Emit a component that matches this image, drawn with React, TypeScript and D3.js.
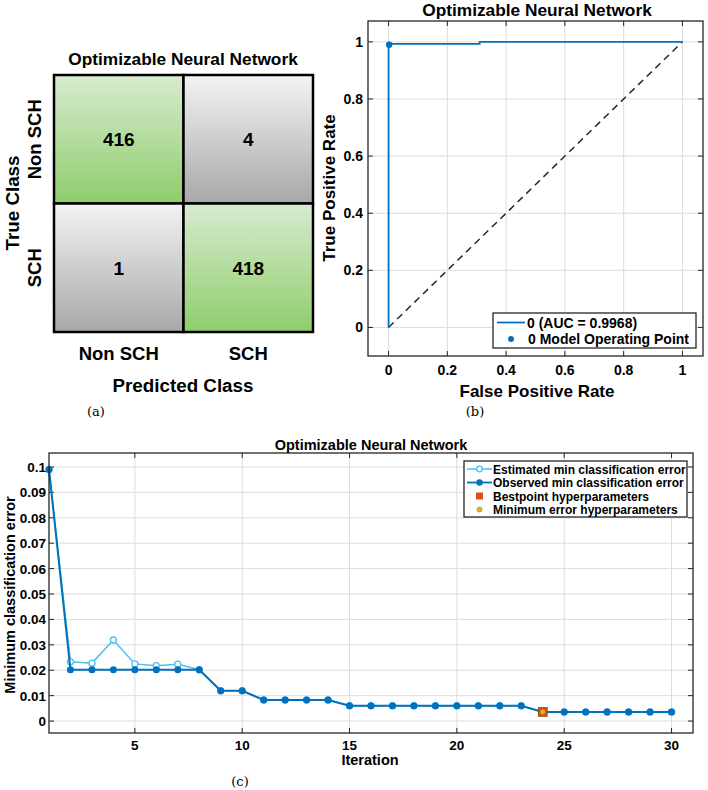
import * as d3 from "d3"

// confusion matrix
const classNames = ["Non SCH", "SCH"]
const cmCounts = [
  [416, 4],
  [1, 418],
]

// ROC curve
const rocFpr = [0, 0, 0.31, 0.31, 1]
const rocTpr = [0, 0.993, 0.993, 1, 1]
const opPoint = [0.002, 0.99]
const rocTicks = [0, 0.2, 0.4, 0.6, 0.8, 1]
const aucLabel = "0 (AUC = 0.9968)"

// optimisation trace
const iterations = d3.range(1, 31)
const observedErr = [
  0.099, 0.0202, 0.0202, 0.0202, 0.0202, 0.0202, 0.0202, 0.0202, 0.0119, 0.0119,
  0.0083, 0.0083, 0.0083, 0.0083, 0.006, 0.006, 0.006, 0.006, 0.006, 0.006,
  0.006, 0.006, 0.006, 0.0036, 0.0036, 0.0036, 0.0036, 0.0036, 0.0036, 0.0036,
]
const estimatedErr = [
  0.099, 0.0233, 0.0228, 0.0319, 0.0225, 0.0218, 0.0224, 0.0202, 0.0119, 0.0119,
  0.0083, 0.0083, 0.0083, 0.0083, 0.006, 0.006, 0.006, 0.006, 0.006, 0.006,
  0.006, 0.006, 0.006, 0.0036, 0.0036, 0.0036, 0.0036, 0.0036, 0.0036, 0.0036,
]
const bestIter = 24
const errTicksX = [5, 10, 15, 20, 25, 30]
const errTicksY = d3.range(0, 11).map(i => i / 100)
const legendItems = [
  "Estimated min classification error",
  "Observed min classification error",
  "Bestpoint hyperparameters",
  "Minimum error hyperparameters",
]

const FONT = "'Liberation Sans', Arial, sans-serif"
const SERIF = "'DejaVu Serif', 'Liberation Serif', serif"
const BLUE = "#0072BD"
const LIGHT = "#4DBEEE"
const GRID = "#dcdcdc"
const INK = "#262626"

function ConfusionMatrix() {
  const x = d3.scaleBand<number>().domain([0, 1]).range([54, 313])
  const y = d3.scaleBand<number>().domain([0, 1]).range([75, 332])
  return (
    <g fontFamily={FONT} fontWeight="bold">
      <defs>
        <linearGradient id="gGreen" x1="0" y1="0" x2="0" y2="1">
          <stop offset="0" stopColor="#d8ebd0" />
          <stop offset="1" stopColor="#8fcd6b" />
        </linearGradient>
        <linearGradient id="gGray" x1="0" y1="0" x2="0" y2="1">
          <stop offset="0" stopColor="#f3f3f3" />
          <stop offset="1" stopColor="#a8a8a8" />
        </linearGradient>
      </defs>
      <text x={183} y={65} textAnchor="middle" fontSize={17.3}>Optimizable Neural Network</text>
      {cmCounts.map((row, r) =>
        row.map((v, c) => (
          <g key={`${r}-${c}`}>
            <rect x={x(c)} y={y(r)} width={x.bandwidth()} height={y.bandwidth()}
              fill={r === c ? "url(#gGreen)" : "url(#gGray)"} stroke="#000" strokeWidth={2.5} />
            <text x={x(c)! + x.bandwidth() / 2} y={y(r)! + y.bandwidth() / 2 + 7}
              textAnchor="middle" fontSize={19}>{v}</text>
          </g>
        ))
      )}
      {classNames.map((n, i) => (
        <text key={"c" + i} x={x(i)! + x.bandwidth() / 2} y={360} textAnchor="middle" fontSize={18.5}>{n}</text>
      ))}
      {classNames.map((n, i) => (
        <text key={"r" + i} transform={`translate(41,${y(i)! + y.bandwidth() / 2}) rotate(-90)`}
          textAnchor="middle" fontSize={18.5}>{n}</text>
      ))}
      <text x={183} y={392} textAnchor="middle" fontSize={18.8}>Predicted Class</text>
      <text transform={`translate(19,203) rotate(-90)`} textAnchor="middle" fontSize={18.8}>True Class</text>
      <text x={96} y={416} textAnchor="middle" fontSize={13} fontWeight="normal" fontFamily={SERIF}>(a)</text>
    </g>
  )
}

function RocPlot() {
  const x = d3.scaleLinear().domain([-0.07, 1.07]).range([368, 703])
  const y = d3.scaleLinear().domain([-0.1, 1.073]).range([356, 21])
  const [x0, x1] = x.range()
  const [y0, y1] = y.range()
  const line = d3.line<number>().x(i => x(rocFpr[i])).y(i => y(rocTpr[i]))
  return (
    <g fontFamily={FONT} fontWeight="bold">
      <rect x={x0} y={y1} width={x1 - x0} height={y0 - y1} fill="#fff" />
      {rocTicks.map(t => (
        <g key={t}>
          <line x1={x(t)} x2={x(t)} y1={y1} y2={y0} stroke={GRID} strokeWidth={1} />
          <line x1={x0} x2={x1} y1={y(t)} y2={y(t)} stroke={GRID} strokeWidth={1} />
          <line x1={x(t)} x2={x(t)} y1={y0} y2={y0 - 5} stroke={INK} />
          <line x1={x(t)} x2={x(t)} y1={y1} y2={y1 + 5} stroke={INK} />
          <line x1={x0} x2={x0 + 5} y1={y(t)} y2={y(t)} stroke={INK} />
          <line x1={x1} x2={x1 - 5} y1={y(t)} y2={y(t)} stroke={INK} />
          <text x={x(t)} y={375} textAnchor="middle" fontSize={14}>{d3.format("~g")(t)}</text>
          <text x={x0 - 5} y={y(t) + 5} textAnchor="end" fontSize={14}>{d3.format("~g")(t)}</text>
        </g>
      ))}
      <line x1={x(0)} y1={y(0)} x2={x(1)} y2={y(1)} stroke={INK} strokeWidth={1.5} strokeDasharray="7,5" />
      <path d={line(d3.range(rocFpr.length))!} fill="none" stroke={BLUE} strokeWidth={1.8} />
      <circle cx={x(opPoint[0])} cy={y(opPoint[1])} r={3.2} fill={BLUE} />
      <rect x={x0} y={y1} width={x1 - x0} height={y0 - y1} fill="none" stroke={INK} strokeWidth={1.3} />
      <g fontSize={14}>
        <rect x={493} y={313} width={203} height={35} fill="#fff" stroke={INK} strokeWidth={1.3} />
        <line x1={497} x2={525} y1={322.5} y2={322.5} stroke={BLUE} strokeWidth={1.8} />
        <text x={527} y={327.5} >{aucLabel}</text>
        <circle cx={511} cy={339} r={3} fill={BLUE} />
        <text x={528} y={344}>0 Model Operating Point</text>
      </g>
      <text x={537} y={16} textAnchor="middle" fontSize={17.3}>Optimizable Neural Network</text>
      <text x={537} y={397} textAnchor="middle" fontSize={17}>False Positive Rate</text>
      <text transform={`translate(335,188) rotate(-90)`} textAnchor="middle" fontSize={17}>True Positive Rate</text>
      <text x={475} y={416} textAnchor="middle" fontSize={13} fontWeight="normal" fontFamily={SERIF}>(b)</text>
    </g>
  )
}

function TracePlot() {
  const x = d3.scaleLinear().domain([1, 31]).range([49, 693])
  const y = d3.scaleLinear().domain([-0.0047, 0.1055]).range([733, 453])
  const [x0, x1] = x.range()
  const [y0, y1] = y.range()
  const line = (vals: number[]) =>
    d3.line<number>().x((_, i) => x(iterations[i])).y(v => y(v))(vals)!
  const bi = iterations.indexOf(bestIter)
  const lx = 464
  const ly = 461
  return (
    <g fontFamily={FONT} fontWeight="bold">
      <rect x={x0} y={y1} width={x1 - x0} height={y0 - y1} fill="#fff" />
      {errTicksX.map(t => (
        <g key={"x" + t}>
          <line x1={x(t)} x2={x(t)} y1={y1} y2={y0} stroke={GRID} />
          <line x1={x(t)} x2={x(t)} y1={y0} y2={y0 - 5} stroke={INK} />
          <line x1={x(t)} x2={x(t)} y1={y1} y2={y1 + 5} stroke={INK} />
          <text x={x(t)} y={750} textAnchor="middle" fontSize={13.5}>{t}</text>
        </g>
      ))}
      {errTicksY.map(t => (
        <g key={"y" + t}>
          <line x1={x0} x2={x1} y1={y(t)} y2={y(t)} stroke={GRID} />
          <line x1={x0} x2={x0 + 5} y1={y(t)} y2={y(t)} stroke={INK} />
          <line x1={x1} x2={x1 - 5} y1={y(t)} y2={y(t)} stroke={INK} />
          <text x={x0 - 3} y={y(t) + 5} textAnchor="end" fontSize={13.5}>{d3.format("~g")(t)}</text>
        </g>
      ))}
      <path d={line(estimatedErr)} fill="none" stroke={LIGHT} strokeWidth={1.5} />
      {estimatedErr.map((v, i) => (
        <circle key={"e" + i} cx={x(iterations[i])} cy={y(v)} r={3} fill="#fff" stroke={LIGHT} strokeWidth={1.3} />
      ))}
      <path d={line(observedErr)} fill="none" stroke={BLUE} strokeWidth={2} />
      {observedErr.map((v, i) => (
        <circle key={"o" + i} cx={x(iterations[i])} cy={y(v)} r={3.5} fill={BLUE} />
      ))}
      <rect x={x(bestIter) - 4.5} y={y(observedErr[bi]) - 4.5} width={9} height={9} fill="#D95319" stroke="#7a2d0e" strokeWidth={0.6} />
      <circle cx={x(bestIter)} cy={y(observedErr[bi])} r={2.8} fill="#EDB120" stroke="#6b5010" strokeWidth={0.5} />
      <rect x={x0} y={y1} width={x1 - x0} height={y0 - y1} fill="none" stroke={INK} strokeWidth={1.3} />
      <g fontSize={12}>
        <rect x={lx} y={ly} width={223} height={56} fill="#fff" stroke={INK} strokeWidth={1.3} />
        <line x1={lx + 3} x2={lx + 28} y1={ly + 8} y2={ly + 8} stroke={LIGHT} strokeWidth={1.5} />
        <circle cx={lx + 15.5} cy={ly + 8} r={2.8} fill="#fff" stroke={LIGHT} strokeWidth={1.3} />
        <line x1={lx + 3} x2={lx + 28} y1={ly + 21.5} y2={ly + 21.5} stroke={BLUE} strokeWidth={1.8} />
        <circle cx={lx + 15.5} cy={ly + 21.5} r={3.2} fill={BLUE} />
        <rect x={lx + 12} y={ly + 31.5} width={7} height={7} fill="#D95319" />
        <circle cx={lx + 15.5} cy={ly + 48.5} r={2.6} fill="#EDB120" stroke="#8a6a10" strokeWidth={0.4} />
        {legendItems.map((s, i) => (
          <text key={s} x={lx + 29} y={ly + 12.5 + i * 13.5}>{s}</text>
        ))}
      </g>
      <text x={371} y={450} textAnchor="middle" fontSize={14.5}>Optimizable Neural Network</text>
      <text x={370} y={765} textAnchor="middle" fontSize={14.5}>Iteration</text>
      <text transform={`translate(15,595) rotate(-90)`} textAnchor="middle" fontSize={14.5}>Minimum classification error</text>
      <text x={240} y={786} textAnchor="middle" fontSize={13} fontWeight="normal" fontFamily={SERIF}>(c)</text>
    </g>
  )
}

export default function App() {
  return (
    <svg width={708} height={790} style={{ position: "absolute", left: 0, top: 0, background: "#fff" }}>
      <rect width={708} height={790} fill="#fff" />
      <ConfusionMatrix />
      <RocPlot />
      <TracePlot />
    </svg>
  )
}
